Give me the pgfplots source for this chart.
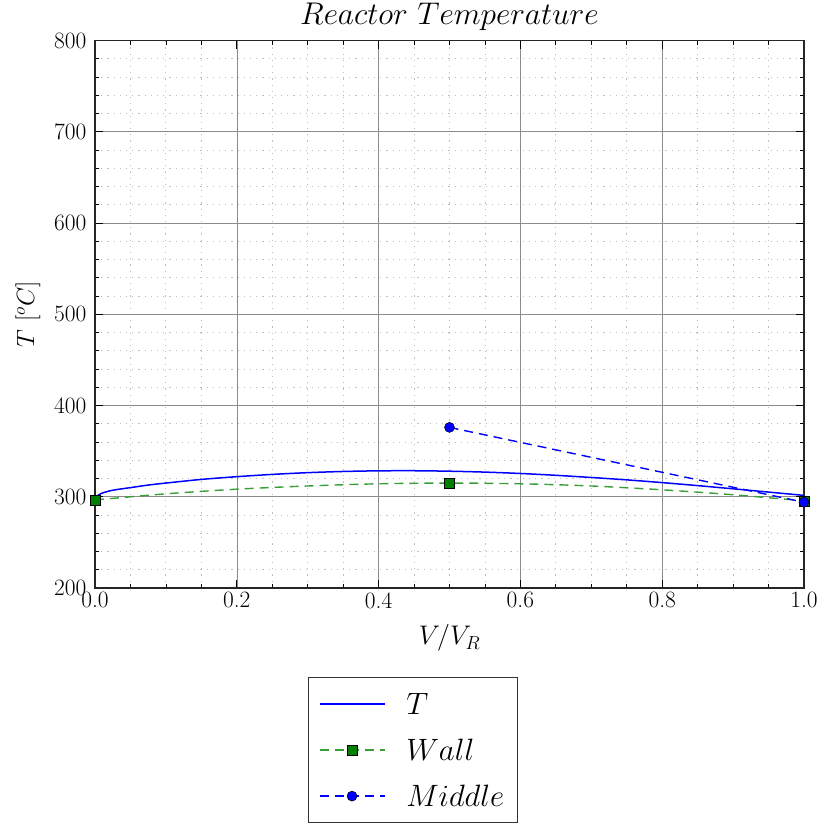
\RequirePackage{fix-cm}
\documentclass[border=0pt]{standalone}
\usepackage{pgfplots}
\pgfplotsset{compat=1.18}
\definecolor{mplgreen}{rgb}{0,0.5,0}
\definecolor{wallline}{rgb}{0.22,0.62,0.22}
\begin{document}
\begin{tikzpicture}
\begin{axis}[
 /pgf/number format/assume math mode=true,
 at={(95bp,235bp)}, anchor=south west,
 scale only axis, width=709bp, height=547.5bp,
 xmin=0, xmax=1, ymin=200, ymax=800,
 xtick={0,0.2,0.4,0.6,0.8,1.0}, ytick={200,300,400,500,600,700,800},
 minor x tick num=3, minor y tick num=4,
 grid=both,
 major grid style={black!45, line width=0.6bp},
 minor grid style={black!25, dash pattern=on 1.2bp off 5bp, line width=0.9bp},
 tick align=inside, xtick pos=both, ytick pos=both,
 major tick length=8bp, minor tick length=4bp,
 every tick/.style={black, line width=0.8bp},
 axis line style={line width=1.2bp, black!85},
 xticklabel={\pgfmathprintnumber[fixed,fixed zerofill,precision=1]{\tick}},
 yticklabel={\pgfmathprintnumber[fixed,precision=0]{\tick}},
 tick label style={font=\fontsize{23.5}{28}\selectfont},
 x tick label style={yshift=-1bp},
 y tick label style={xshift=-5bp},
 title={$Reactor\ Temperature$},
 title style={font=\fontsize{31.5}{37}\selectfont, at={(0.5,1.0192)}, anchor=base},
 xlabel={$V/V_R$},
 xlabel style={font=\fontsize{27}{32}\selectfont, at={(0.5,-0.1041)}, anchor=base},
 ylabel={$T\ [^oC]$},
 ylabel style={font=\fontsize{25}{30}\selectfont, at={(-0.086,0.5)}, anchor=base},
 legend style={at={(0.4485,-0.1626)}, anchor=north, font=\fontsize{31}{37}\selectfont,
   draw=black!80, line width=1.2bp, fill=white, inner xsep=10bp, inner ysep=3.5bp,
   nodes={text height=30bp, text depth=10bp, inner sep=3bp},
   /tikz/every odd column/.append style={column sep=18bp}},
 legend cell align=left,
 legend image code/.code={\draw[#1, mark indices={2}] plot coordinates {(0bp,0bp) (32.5bp,0bp) (65bp,0bp)};},
]
\addplot[blue, line width=1.5bp, smooth] coordinates {
 (0,298.5) (0.005,302) (0.01,304) (0.02,306.3) (0.03,307.8) (0.05,310) (0.075,312.8) (0.1,315) (0.15,319) (0.2,322)
 (0.25,324.5) (0.3,326.4) (0.35,327.7) (0.4,328.4) (0.45,328.5) (0.5,328) (0.55,327) (0.6,325.5)
 (0.65,323.5) (0.7,321.1) (0.75,318.5) (0.8,315.5) (0.85,312.2) (0.9,308.7) (0.95,305.1) (1.0,301.5)};
\addlegendentry{$T$}
\addplot[wallline, line width=1.4bp, dash pattern=on 9bp off 6bp, smooth,
  mark=square*, mark size=5bp, mark indices={1,6,11},
  mark options={solid, fill=mplgreen, draw=black, line width=0.5bp}] coordinates {
 (0,296.5) (0.1,303.2) (0.2,308.3) (0.3,311.8) (0.4,314.2) (0.5,315) (0.6,314.2) (0.7,311.8) (0.8,307.6) (0.9,302.2) (1.0,295.5)};
\addlegendentry{$Wall$}
\addplot[blue, line width=1.4bp, dash pattern=on 9bp off 6bp,
  mark=*, mark size=5bp, mark options={solid, fill=blue, draw=black, line width=0.5bp}] coordinates {
 (0.5,376) (1.0,294)};
\addlegendentry{$Middle$}
\end{axis}
\pgfresetboundingbox
\useasboundingbox (0,0) rectangle (821bp,823bp);
\end{tikzpicture}
\end{document}
